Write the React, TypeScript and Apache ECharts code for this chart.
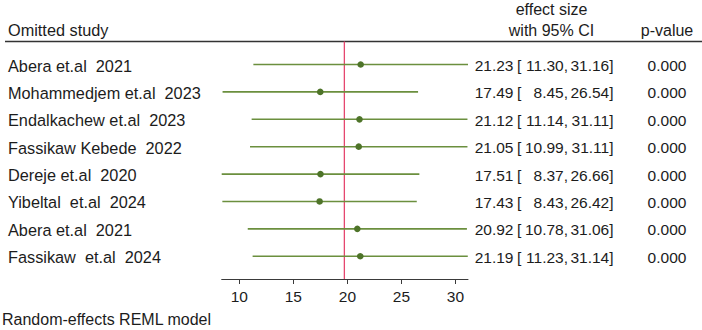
import React, { useEffect, useRef } from "react";
import * as echarts from "echarts";

const studies = [
  "Abera et.al  2021",
  "Mohammedjem et.al  2023",
  "Endalkachew et.al  2023",
  "Fassikaw Kebede  2022",
  "Dereje et.al  2020",
  "Yibeltal  et.al  2024",
  "Abera et.al  2021",
  "Fassikaw  et.al  2024",
];
const estimates = [21.23, 17.49, 21.12, 21.05, 17.51, 17.43, 20.92, 21.19];
const lowerCI = [11.3, 8.45, 11.14, 10.99, 8.37, 8.43, 10.78, 11.23];
const upperCI = [31.16, 26.54, 31.11, 31.11, 26.66, 26.42, 31.06, 31.14];
const pValues = ["0.000", "0.000", "0.000", "0.000", "0.000", "0.000", "0.000", "0.000"];
const overallEffect = 19.72;
const xTicks = [10, 15, 20, 25, 30];

const FONT = "'Liberation Sans', Arial, sans-serif";
const TXT = "#1c1c1c";
const LINE_GREEN = "#6b8f3e";
const DOT_GREEN = "#4e7429";
const RED = "#e5476f";

export default function App() {
  const ref = useRef<HTMLDivElement>(null);
  useEffect(() => {
    if (!ref.current) return;
    const chart = echarts.init(ref.current, null, { renderer: "svg" });
    const xmin = Math.min(...lowerCI);
    const xmax = Math.max(...upperCI);
    const yMin = -0.84;
    const yMax = 7.83;
    const data = studies.map((s, i) => [i, estimates[i], lowerCI[i], upperCI[i]]);
    chart.setOption({
      animation: false,
      grid: { left: 221.7, width: 246.3, top: 41.5, height: 237.5 },
      xAxis: {
        type: "value",
        position: "bottom",
        min: xmin,
        max: xmax,
        splitLine: { show: false },
        axisLine: { show: true, onZero: false, lineStyle: { color: "#3a3a3a", width: 1 } },
        axisTick: { show: true, length: 5, customValues: xTicks, lineStyle: { color: "#3a3a3a" } },
        axisLabel: {
          customValues: xTicks,
          fontFamily: FONT,
          fontSize: 15.5,
          color: TXT,
          margin: 9,
        },
      },
      yAxis: {
        type: "value",
        inverse: true,
        min: yMin,
        max: yMax,
        show: false,
      },
      graphic: [
        { type: "line", shape: { x1: 5, y1: 41.5, x2: 702, y2: 41.5 }, style: { stroke: "#333", lineWidth: 1.5 } },
        { type: "text", x: 8, y: 30, style: { text: "Omitted study", font: `16.3px ${FONT}`, fill: TXT, textVerticalAlign: "middle" } },
        { type: "text", x: 551.5, y: 9, style: { text: "effect size", font: `16px ${FONT}`, fill: TXT, textAlign: "center", textVerticalAlign: "middle" } },
        { type: "text", x: 551.5, y: 30, style: { text: "with 95% CI", font: `16px ${FONT}`, fill: TXT, textAlign: "center", textVerticalAlign: "middle" } },
        { type: "text", x: 667, y: 30, style: { text: "p-value", font: `16px ${FONT}`, fill: TXT, textAlign: "center", textVerticalAlign: "middle" } },
        { type: "text", x: 2, y: 319.5, style: { text: "Random-effects REML model", font: `16px ${FONT}`, fill: TXT, textVerticalAlign: "middle" } },
      ],
      series: [
        {
          type: "line",
          data: [
            [overallEffect, yMin],
            [overallEffect, yMax],
          ],
          symbol: "none",
          lineStyle: { color: RED, width: 1.3 },
          z: 1,
        },
        {
          type: "custom",
          data,
          z: 2,
          renderItem: (params: any, api: any) => {
            const i = api.value(0);
            const est = api.value(1);
            const lo = api.value(2);
            const hi = api.value(3);
            const pLo = api.coord([lo, i]);
            const pHi = api.coord([hi, i]);
            const pEst = api.coord([est, i]);
            const y = pEst[1];
            const ty = y + 1;
            const font = `16.3px ${FONT}`;
            const nfont = `15.5px ${FONT}`;
            return {
              type: "group",
              children: [
                { type: "line", shape: { x1: pLo[0], y1: y, x2: pHi[0], y2: y }, style: { stroke: LINE_GREEN, lineWidth: 1.6 } },
                { type: "circle", shape: { cx: pEst[0], cy: y, r: 3.3 }, style: { fill: DOT_GREEN } },
                { type: "text", x: 8, y: ty, style: { text: studies[i], font, fill: TXT, textVerticalAlign: "middle" } },
                { type: "text", x: 513.5, y: ty, style: { text: est.toFixed(2), font: nfont, fill: TXT, textAlign: "right", textVerticalAlign: "middle" } },
                { type: "text", x: 517, y: ty, style: { text: "[", font: nfont, fill: TXT, textAlign: "left", textVerticalAlign: "middle" } },
                { type: "text", x: 568, y: ty, style: { text: lo.toFixed(2) + ",", font: nfont, fill: TXT, textAlign: "right", textVerticalAlign: "middle" } },
                { type: "text", x: 613.5, y: ty, style: { text: hi.toFixed(2) + "]", font: nfont, fill: TXT, textAlign: "right", textVerticalAlign: "middle" } },
                { type: "text", x: 667, y: ty, style: { text: pValues[i], font: nfont, fill: TXT, textAlign: "center", textVerticalAlign: "middle" } },
              ],
            };
          },
        },
      ],
    });
    return () => chart.dispose();
  }, []);
  return (
    <div
      ref={ref}
      style={{ position: "fixed", left: 0, top: 0, width: 702, height: 330, background: "#fff" }}
    />
  );
}
